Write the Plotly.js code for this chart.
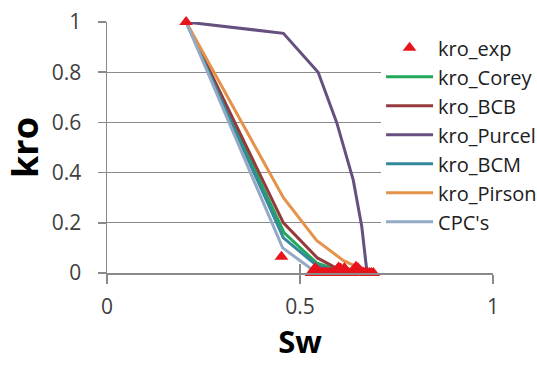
<!DOCTYPE html>
<html>
<head>
<meta charset="utf-8">
<script src="https://cdn.plot.ly/plotly-3.0.1.min.js"></script>
<style>
  html, body { margin: 0; padding: 0; background: #fff; }
  #chart { width: 537px; height: 365px; }
</style>
</head>
<body>
<div id="chart"></div>
<script>
// Oil relative permeability (kro) versus water saturation (Sw)
const swExp  = [0.205, 0.452, 0.530, 0.535, 0.540, 0.545, 0.550, 0.555, 0.560, 0.565, 0.570, 0.575, 0.580, 0.585,
                0.590, 0.595, 0.600, 0.605, 0.610, 0.615, 0.620, 0.625, 0.630, 0.635, 0.640, 0.645, 0.650,
                0.655, 0.660, 0.665, 0.670, 0.675, 0.680, 0.685, 0.690];
const kroExp = [1.0, 0.065, 0.0, 0.012, 0.02, 0.008, 0.004, 0.002, 0.0, 0.002, 0.001, 0.0, 0.001, 0.0,
                0.0, 0.012, 0.022, 0.018, 0.005, 0.02, 0.0, 0.001, 0.0, 0.0, 0.015, 0.025, 0.02,
                0.01, 0.004, 0.002, 0.0, 0.001, 0.0, 0.0, 0.0];

const swCorey  = [0.205, 0.459, 0.543, 0.600, 0.650, 0.690];
const kroCorey = [1.0, 0.16, 0.04, 0.01, 0.002, 0.0];

const swBCB  = [0.205, 0.457, 0.545, 0.600, 0.650, 0.690];
const kroBCB = [1.0, 0.20, 0.06, 0.015, 0.003, 0.0];

const swPurcel  = [0.205, 0.457, 0.547, 0.595, 0.638, 0.660, 0.673, 0.690];
const kroPurcel = [1.0, 0.955, 0.80, 0.60, 0.37, 0.185, 0.01, 0.0];

const swBCM  = [0.205, 0.457, 0.543, 0.600, 0.650, 0.690];
const kroBCM = [1.0, 0.14, 0.03, 0.008, 0.002, 0.0];

const swPirson  = [0.205, 0.457, 0.543, 0.612, 0.667, 0.690];
const kroPirson = [1.0, 0.30, 0.13, 0.05, 0.01, 0.0];

const swCPC  = [0.205, 0.455, 0.535, 0.600, 0.690];
const kroCPC = [1.0, 0.10, 0.01, 0.0, 0.0];

const xTicks = [0, 0.5, 1];
const yTicks = [0, 0.2, 0.4, 0.6, 0.8, 1];

function curve(name, x, y, color, rank) {
  return {
    type: 'scatter', mode: 'lines', name: name, x: x, y: y, legendrank: rank,
    line: { color: color, width: 3 }, cliponaxis: false
  };
}

const traces = [
  curve('kro_Corey', swCorey, kroCorey, '#22A85A', 2),
  curve('kro_BCB', swBCB, kroBCB, '#953A3C', 3),
  curve('kro_Purcel', swPurcel, kroPurcel, '#65507F', 4),
  curve('kro_BCM', swBCM, kroBCM, '#33899C', 5),
  curve('kro_Pirson', swPirson, kroPirson, '#E5924A', 6),
  curve("CPC's", swCPC, kroCPC, '#94AAC4', 7),
  // measured points sit on top of the model curves
  {
    type: 'scatter', mode: 'markers', name: 'kro_exp', x: swExp, y: kroExp, legendrank: 1,
    marker: { symbol: 'triangle-up', size: 12, color: '#E8141B' }, cliponaxis: false
  },
  // carries the upper half of the crossing x ticks
  { type: 'scatter', mode: 'markers', x: [0], y: [0], xaxis: 'x2', showlegend: false,
    hoverinfo: 'skip', marker: { opacity: 0 } }
];

const font = 'Open Sans, Liberation Sans, sans-serif';

const layout = {
  width: 537, height: 365,
  margin: { l: 107, r: 44, t: 22, b: 92, autoexpand: false },
  paper_bgcolor: '#fff', plot_bgcolor: '#fff',
  font: { family: font, color: '#404040' },
  showlegend: true,
  legend: {
    x: 0.71, y: 0.975, xanchor: 'left', yanchor: 'top',
    bgcolor: '#fff', borderwidth: 0,
    font: { family: font, size: 20, color: '#202020' },
    itemwidth: 47, tracegroupgap: 0
  },
  xaxis: {
    range: [0, 1], tickvals: xTicks, ticktext: xTicks.map(String),
    showgrid: false, zeroline: false,
    showline: true, linecolor: '#8A8A8A', linewidth: 1.5,
    ticks: 'outside', ticklen: 9, tickcolor: '#8A8A8A', tickwidth: 1.5,
    tickfont: { size: 21, color: '#404040' }, ticklabelstandoff: 5,
    title: { text: '<b>Sw</b>', font: { size: 31, color: '#000' }, standoff: 10 }
  },
  xaxis2: {
    overlaying: 'x', side: 'bottom', range: [0, 1], tickvals: xTicks,
    showticklabels: false, showgrid: false, zeroline: false, showline: false,
    ticks: 'inside', ticklen: 9, tickcolor: '#8A8A8A', tickwidth: 1.5
  },
  yaxis: {
    range: [0, 1], tickvals: yTicks, ticktext: yTicks.map(String),
    showgrid: true, gridcolor: '#8A8A8A', gridwidth: 1.2,
    zeroline: false,
    showline: true, linecolor: '#8A8A8A', linewidth: 1.5,
    ticks: 'outside', ticklen: 8, tickcolor: '#8A8A8A', tickwidth: 1.5,
    tickfont: { size: 21, color: '#404040' }, ticklabelstandoff: 12,
    title: { text: '<b>kro</b>', font: { size: 36, color: '#000' }, standoff: 8 }
  }
};

Plotly.newPlot('chart', traces, layout, { displayModeBar: false, staticPlot: true });
</script>
</body>
</html>
